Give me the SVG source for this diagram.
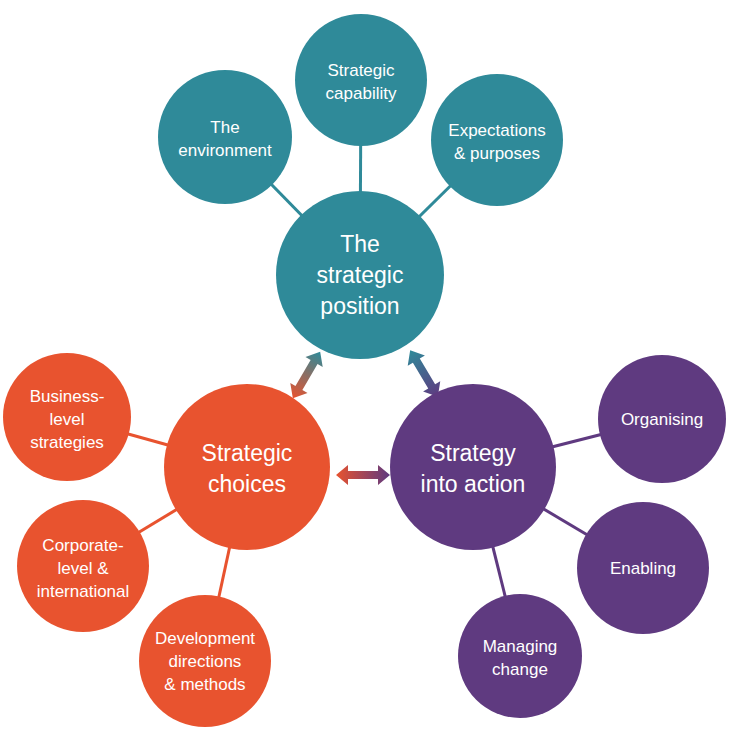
<svg xmlns="http://www.w3.org/2000/svg" width="730" height="742" viewBox="0 0 730 742">
<style>
.t{fill:#2f8a99}.o{fill:#e8532f}.p{fill:#5f3a80}
text{fill:#fff;font-family:"Liberation Sans",Arial,sans-serif;text-anchor:middle}
.s{font-size:17px}.b{font-size:23px}
.lt{stroke:#2f8a99;stroke-width:3}.lo{stroke:#e8532f;stroke-width:3}.lp{stroke:#5f3a80;stroke-width:3}
</style>
<defs>
<linearGradient id="gOT"><stop offset="0" stop-color="#e8532f"/><stop offset="1" stop-color="#2f8a99"/></linearGradient>
<linearGradient id="gTP"><stop offset="0" stop-color="#2f8a99"/><stop offset="1" stop-color="#5f3a80"/></linearGradient>
<linearGradient id="gOP"><stop offset="0" stop-color="#e8532f"/><stop offset="1" stop-color="#5f3a80"/></linearGradient>
<path id="da" d="M-27,0 L-15,-10 L-15,-4 L15,-4 L15,-10 L27,0 L15,10 L15,4 L-15,4 L-15,10 Z"/>
</defs>
<g id="connectors">
<line class="lt" x1="225" y1="137" x2="360" y2="275"/>
<line class="lt" x1="361" y1="80" x2="360" y2="275"/>
<line class="lt" x1="497" y1="140" x2="360" y2="275"/>
<line class="lo" x1="67" y1="417" x2="247" y2="467"/>
<line class="lo" x1="83" y1="566" x2="247" y2="467"/>
<line class="lo" x1="205" y1="661" x2="247" y2="467"/>
<line class="lp" x1="662" y1="419" x2="473" y2="467"/>
<line class="lp" x1="643" y1="568" x2="473" y2="467"/>
<line class="lp" x1="520" y1="656" x2="473" y2="467"/>
<use href="#da" fill="url(#gOT)" transform="translate(306.5,375) rotate(-59.6)"/>
<use href="#da" fill="url(#gTP)" transform="translate(424,373.5) rotate(59.2)"/>
<use href="#da" fill="url(#gOP)" transform="translate(363,475)"/>
</g>
<g id="env"><circle class="t" cx="225" cy="137" r="67"/><text class="s" x="225" y="133">The</text><text class="s" x="225" y="156">environment</text></g>
<g id="cap"><circle class="t" cx="361" cy="80" r="66"/><text class="s" x="361" y="76">Strategic</text><text class="s" x="361" y="99">capability</text></g>
<g id="exp"><circle class="t" cx="497" cy="140" r="66"/><text class="s" x="497" y="136">Expectations</text><text class="s" x="497" y="159">&amp; purposes</text></g>
<g id="pos"><circle class="t" cx="360" cy="275" r="84"/><text class="b" x="360" y="252">The</text><text class="b" x="360" y="283">strategic</text><text class="b" x="360" y="314">position</text></g>
<g id="bus"><circle class="o" cx="67" cy="417" r="64"/><text class="s" x="67" y="402">Business-</text><text class="s" x="67" y="425">level</text><text class="s" x="67" y="448">strategies</text></g>
<g id="corp"><circle class="o" cx="83" cy="566" r="66"/><text class="s" x="83" y="551">Corporate-</text><text class="s" x="83" y="574">level &amp;</text><text class="s" x="83" y="597">international</text></g>
<g id="dev"><circle class="o" cx="205" cy="661" r="66"/><text class="s" x="205" y="644">Development</text><text class="s" x="205" y="667">directions</text><text class="s" x="205" y="690">&amp; methods</text></g>
<g id="choices"><circle class="o" cx="247" cy="467" r="83"/><text class="b" x="247" y="461">Strategic</text><text class="b" x="247" y="492">choices</text></g>
<g id="action"><circle class="p" cx="473" cy="467" r="83"/><text class="b" x="473" y="461">Strategy</text><text class="b" x="473" y="492">into action</text></g>
<g id="org"><circle class="p" cx="662" cy="419" r="64"/><text class="s" x="662" y="425">Organising</text></g>
<g id="ena"><circle class="p" cx="643" cy="568" r="66"/><text class="s" x="643" y="574">Enabling</text></g>
<g id="man"><circle class="p" cx="520" cy="656" r="62"/><text class="s" x="520" y="652">Managing</text><text class="s" x="520" y="675">change</text></g>
</svg>
